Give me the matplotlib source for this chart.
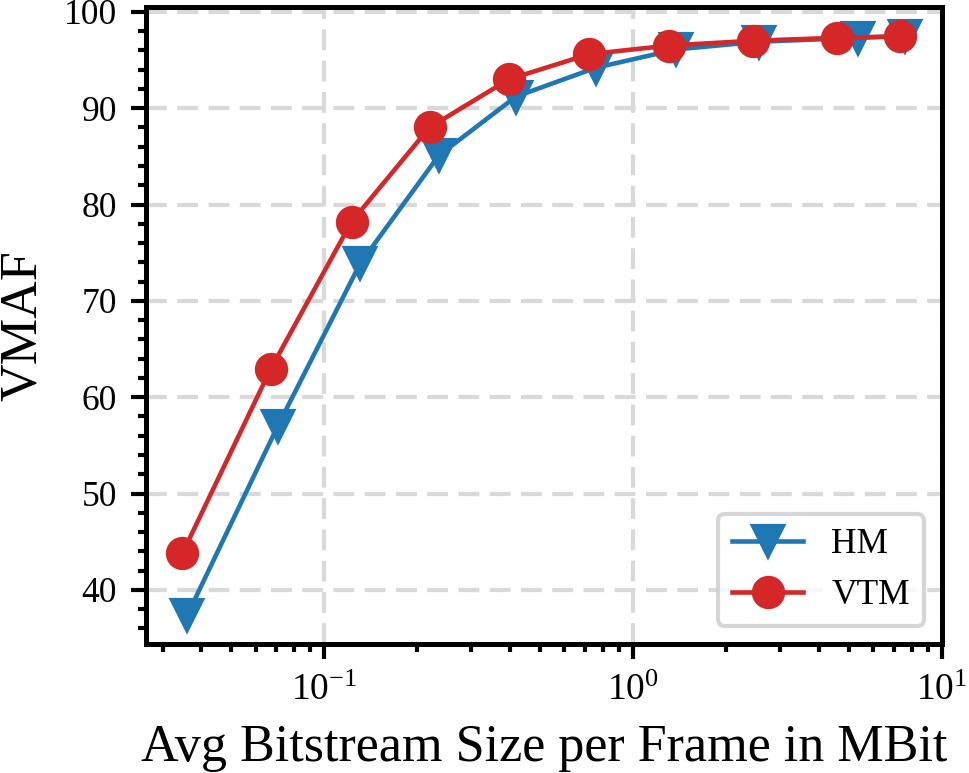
import numpy as np
import matplotlib
matplotlib.use("Agg")
import matplotlib.pyplot as plt
from matplotlib.ticker import AutoMinorLocator

plt.rcParams['font.family'] = ['Liberation Serif', 'DejaVu Serif']
plt.rcParams['mathtext.fontset'] = 'stix'

# bitrate (MBit per frame) and VMAF
hm_rate = [0.0361, 0.0708, 0.131, 0.2354, 0.418, 0.759, 1.382, 2.555, 5.36, 7.6]
hm_vmaf = [37.4, 57.0, 73.9, 85.1, 91.2, 94.2, 96.1, 96.9, 97.3, 97.5]

vtm_rate = [0.0348, 0.0671, 0.1227, 0.2195, 0.397, 0.721, 1.308, 2.455, 4.56, 7.32]
vtm_vmaf = [43.8, 62.9, 78.2, 88.0, 93.0, 95.6, 96.5, 97.0, 97.3, 97.45]

fig, ax = plt.subplots(figsize=(969/300, 773/300), dpi=300)
fig.subplots_adjust(left=0.151, right=0.972, top=0.991, bottom=0.167)

ax.plot(hm_rate, hm_vmaf, marker='v', color='tab:blue', lw=1.1, ms=7, label='HM')
ax.plot(vtm_rate, vtm_vmaf, marker='o', color='tab:red', lw=1.1, ms=7, label='VTM')

ax.set_xscale('log')
ax.set_xlim(right=10)
ax.yaxis.set_minor_locator(AutoMinorLocator(5))
ax.grid(True, which='major', color='#d9d9d9', lw=1.0, dashes=(5, 2.5))
ax.set_axisbelow(True)

for s in ax.spines.values():
    s.set_linewidth(1.2)
ax.tick_params(which='both', width=1.0)
ax.tick_params(axis='y', labelsize=8.5)
ax.tick_params(axis='x', labelsize=9)

ax.set_xlabel('Avg Bitstream Size per Frame in MBit', fontsize=12.5)
ax.set_ylabel('VMAF', fontsize=12.5)
ax.legend(loc='lower right', fontsize=8.5)

fig.savefig('out.png', dpi=300)
